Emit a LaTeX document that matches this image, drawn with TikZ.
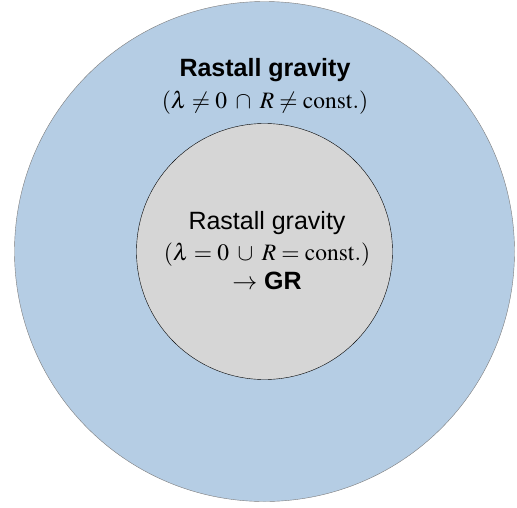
\documentclass[tikz,border=0pt]{standalone}
\usepackage{mathptmx}
\usepackage[no-math]{fontspec}
\newfontfamily\helv{Liberation Sans}
\usepackage{tikz}
\usetikzlibrary{positioning}
\definecolor{rastallblue}{RGB}{181,205,228}
\definecolor{grgray}{RGB}{214,214,214}
\definecolor{rimgray}{RGB}{125,125,125}
\tikzset{
  region/.style={circle,inner sep=0pt},
  lbl/.style={inner sep=0pt,font=\helv\fontsize{25}{30}\selectfont},
  cond/.style={inner sep=0pt,font=\fontsize{23.5}{28}\selectfont}
}

\begin{document}
\begin{tikzpicture}[x=1pt,y=1pt]
\useasboundingbox (0,0) rectangle (517,-507);
% the two regions
\node[region,fill=rastallblue,draw=rimgray,minimum size=500pt] (outer) at (264.5,-251.5) {};
\node[region,fill=grgray,draw=black,minimum size=256pt] (inner) at (outer.center) {};
% outer labels
\node[lbl,font=\helv\bfseries\fontsize{25}{30}\selectfont] (outtitle) at (265,-70) {Rastall gravity};
\node[cond,below=9pt of outtitle] (outcond) {$(\lambda \neq 0 \;\cap\; R \neq \mathrm{const.})$};
% inner labels
\node[lbl] (intitle) at (267,-223) {Rastall gravity};
\node[cond,below=8pt of intitle] (incond) {$(\lambda = 0 \;\cup\; R = \mathrm{const.})$};
\node[lbl,below=5pt of incond] (ingr) {$\rightarrow$ \textbf{GR}};
\end{tikzpicture}
\end{document}
